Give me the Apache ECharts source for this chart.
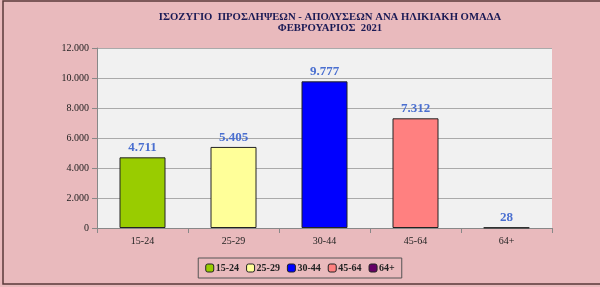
<!DOCTYPE html>
<html><head><meta charset="utf-8">
<script src="https://cdn.jsdelivr.net/npm/echarts@6/dist/echarts.min.js"></script>
<style>html,body{margin:0;padding:0;background:#e9babd}#c{width:600px;height:287px}</style>
</head><body><div id="c"></div>
<script>
const categories = ['15-24','25-29','30-44','45-64','64+'];
const values = [4711, 5405, 9777, 7312, 28];
const colors = ['#99cc00','#ffff99','#0000ff','#ff8080','#660066'];
const yTicks = [0,2000,4000,6000,8000,10000,12000];
const titleLines = ['ΙΣΟΖΥΓΙΟ  ΠΡΟΣΛΗΨΕΩΝ - ΑΠΟΛΥΣΕΩΝ ΑΝΑ ΗΛΙΚΙΑΚΗ ΟΜΑΔΑ','ΦΕΒΡΟΥΑΡΙΟΣ  2021'];

const fmt = v => String(v).replace(/\B(?=(\d{3})+(?!\d))/g, '.');
const serif = '"Liberation Serif","DejaVu Serif",serif';

const series = categories.map((c, i) => ({
  name: c, type: 'bar', stack: 's', barWidth: 46,
  data: categories.map((_, j) => j === i ? values[i] : '-'),
  itemStyle: { color: colors[i], borderColor: '#222', borderWidth: 1 },
  label: { show: true, position: 'top', formatter: p => fmt(p.value), color: '#4a6fd0',
           fontFamily: serif, fontWeight: 'bold', fontSize: 13, distance: 3 }
}));

const chart = echarts.init(document.getElementById('c'));
chart.setOption({
  backgroundColor: '#e9babd',
  animation: false,
  title: { text: titleLines.join('\n'), left: 325, textAlign: 'center', top: 6,
    textStyle: { fontFamily: serif, fontWeight: 'bold', fontSize: 10.7, color: '#1a1a55', lineHeight: 11.5, align: 'center' } },
  grid: { left: 97, right: 48, top: 48, bottom: 59, backgroundColor: '#f1f1f1', show: true, borderWidth: 0 },
  legend: { bottom: 9, left: 'center', itemWidth: 8, itemHeight: 8, itemGap: 7,
    backgroundColor: '#e9babd', borderColor: '#555', borderWidth: 1, padding: [5, 7],
    data: categories.map((c, i) => ({ name: c, itemStyle: { color: colors[i], borderColor: '#222', borderWidth: 1 } })),
    textStyle: { fontFamily: serif, fontWeight: 'bold', fontSize: 10, color: '#222', padding: [0,0,0,-3] } },
  xAxis: { type: 'category', data: categories,
    axisLine: { lineStyle: { color: '#888' } }, axisTick: { show: true, lineStyle: { color: '#888' } },
    axisLabel: { fontFamily: serif, fontSize: 10, color: '#222', margin: 8 } },
  yAxis: { type: 'value', min: 0, max: 12000, interval: 2000,
    axisLine: { show: true, lineStyle: { color: '#888' } }, axisTick: { show: true, lineStyle: { color: '#888' } },
    splitLine: { lineStyle: { color: '#aaa' } },
    axisLabel: { fontFamily: serif, fontSize: 10, color: '#222', margin: 8, formatter: v => fmt(v) } },
  series: series,
  graphic: [{ type: 'rect', shape: { x: 3, y: 1, width: 620, height: 283 },
    style: { fill: 'none', stroke: '#5a3a3a', lineWidth: 1.5 }, silent: true }]
});
</script></body></html>
